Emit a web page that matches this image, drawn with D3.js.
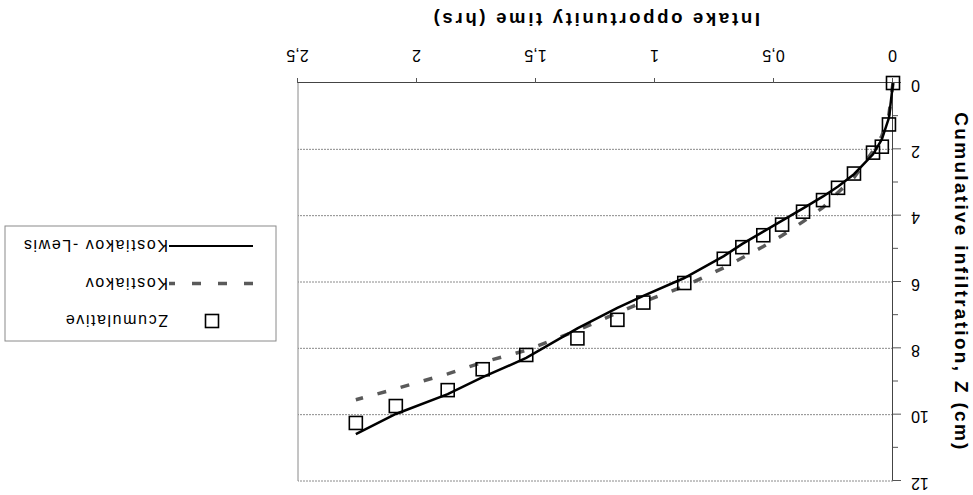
<!DOCTYPE html>
<html>
<head>
<meta charset="utf-8">
<script src="https://cdn.jsdelivr.net/npm/d3@7/dist/d3.min.js"></script>
<style>
  body { margin: 0; background: #fff; }
  text { font-family: "Liberation Sans", Arial, sans-serif; fill: #000; }
</style>
</head>
<body>
<svg id="chart" width="973" height="495"></svg>
<script>
// values (time in hrs, Z in cm)
var timeHrs = [0, 0.017, 0.047, 0.084, 0.164, 0.231, 0.294, 0.378, 0.466, 0.545, 0.633,
               0.711, 0.877, 1.049, 1.158, 1.326, 1.541, 1.724, 1.871, 2.089, 2.257];
var zCumulative = [0, 1.25, 1.92, 2.10, 2.73, 3.16, 3.53, 3.88, 4.27, 4.59, 4.95,
                   5.30, 6.03, 6.62, 7.14, 7.70, 8.20, 8.63, 9.26, 9.74, 10.25];
var zKostiakov = [0, 0.95, 1.60, 2.05, 2.85, 3.30, 3.75, 4.18, 4.60, 4.93, 5.27,
                  5.57, 6.13, 6.60, 6.93, 7.46, 8.06, 8.42, 8.77, 9.22, 9.55];
var zKostiakovLewis = [0, 1.05, 1.70, 2.15, 2.75, 3.12, 3.42, 3.78, 4.15, 4.48, 4.85,
                       5.22, 5.88, 6.42, 6.78, 7.40, 8.29, 8.87, 9.38, 9.98, 10.59];
var xTicks = [0, 0.5, 1, 1.5, 2, 2.5];
var yTicks = [0, 2, 4, 6, 8, 10, 12];
var yMinorTicks = [1, 3, 5, 7, 9, 11];
var legendNames = ["Zcumulative", "Kostiakov", "Kostiakov -Lewis"];

var svg = d3.select("#chart");
svg.append("rect").attr("width", 973).attr("height", 495).attr("fill", "#fff");

// the whole picture is upside down, so draw normally and turn it
var root = svg.append("g").attr("transform", "rotate(180 486.5 247.5)");

var x = d3.scaleLinear().domain([0, 2.5]).range([80, 675]);
var y = d3.scaleLinear().domain([0, 12]).range([412, 14]);
var fmt = function (d) { return String(d).replace(".", ","); };

// gridlines
root.append("g").selectAll("line").data(yTicks.slice(1)).enter().append("line")
    .attr("x1", x(0)).attr("x2", x(2.5))
    .attr("y1", function (d) { return y(d); })
    .attr("y2", function (d) { return y(d); })
    .attr("stroke", "#8a8a8a").attr("stroke-width", 1).attr("stroke-dasharray", "2,1");
// right border of plot area
root.append("line").attr("x1", x(2.5)).attr("x2", x(2.5)).attr("y1", y(0)).attr("y2", y(12))
    .attr("stroke", "#8a8a8a").attr("stroke-width", 1);

// axes
var xAxis = root.append("g").attr("transform", "translate(0," + y(0) + ")")
    .call(d3.axisBottom(x).tickValues(xTicks).tickSize(5).tickPadding(17).tickFormat(fmt));
var yAxis = root.append("g").attr("transform", "translate(" + x(0) + ",0)")
    .call(d3.axisLeft(y).tickValues(yTicks).tickSize(8).tickPadding(10).tickFormat(fmt));
root.append("g").attr("transform", "translate(" + x(0) + ",0)")
    .call(d3.axisLeft(y).tickValues(yMinorTicks).tickSize(5).tickFormat(""))
    .select(".domain").remove();
root.selectAll(".domain").attr("stroke", "#444");
root.selectAll(".tick line").attr("stroke", "#555");
xAxis.selectAll("text").style("font-size", "16px");
yAxis.selectAll("text").style("font-size", "16px").attr("dy", "0.17em");

// axis titles
root.append("text").attr("x", (x(0) + x(2.5)) / 2).attr("y", 482)
    .attr("text-anchor", "middle").style("font-size", "18.5px").style("font-weight", "bold")
    .style("letter-spacing", "2.7px")
    .text("Intake opportunity time (hrs)");
root.append("text").attr("transform", "translate(18," + (y(0) + y(12)) / 2 + ") rotate(-90)")
    .attr("text-anchor", "middle").style("font-size", "19px").style("font-weight", "bold")
    .style("letter-spacing", "2.3px")
    .text("Cumulative infiltration, Z (cm)");

// series
var line = function (vals) {
    return d3.line().x(function (d, i) { return x(timeHrs[i]); })
        .y(function (d) { return y(d); })(vals);
};
root.append("path").attr("d", line(zKostiakov)).attr("fill", "none")
    .attr("stroke", "#5a5a5a").attr("stroke-width", 3.5).attr("stroke-dasharray", "9,15");
root.append("path").attr("d", line(zKostiakovLewis)).attr("fill", "none")
    .attr("stroke", "#000").attr("stroke-width", 2.5);
root.append("g").selectAll("rect").data(zCumulative).enter().append("rect")
    .attr("x", function (d, i) { return x(timeHrs[i]) - 6.5; })
    .attr("y", function (d) { return y(d) - 6.5; })
    .attr("width", 13).attr("height", 13)
    .attr("fill", "none").attr("stroke", "#000").attr("stroke-width", 1.6);

// legend
var lg = root.append("g");
lg.append("rect").attr("x", 697).attr("y", 154).attr("width", 271).attr("height", 115)
    .attr("fill", "#fff").attr("stroke", "#8a8a8a").attr("stroke-width", 1);
var rowY = [174, 211.5, 249];
lg.append("rect").attr("x", 761 - 6.5).attr("y", rowY[0] - 6.5).attr("width", 13).attr("height", 13)
    .attr("fill", "none").attr("stroke", "#000").attr("stroke-width", 1.6);
lg.append("line").attr("x1", 720).attr("x2", 804).attr("y1", rowY[1]).attr("y2", rowY[1])
    .attr("stroke", "#5a5a5a").attr("stroke-width", 3.5).attr("stroke-dasharray", "9,17");
lg.append("line").attr("x1", 720).attr("x2", 804).attr("y1", rowY[2]).attr("y2", rowY[2])
    .attr("stroke", "#000").attr("stroke-width", 2);
lg.selectAll("text.lab").data(legendNames).enter().append("text").attr("class", "lab")
    .attr("x", 805).attr("y", function (d, i) { return rowY[i] + 6; })
    .style("font-size", "16px").style("letter-spacing", "1.6px")
    .text(function (d) { return d; });
</script>
</body>
</html>
